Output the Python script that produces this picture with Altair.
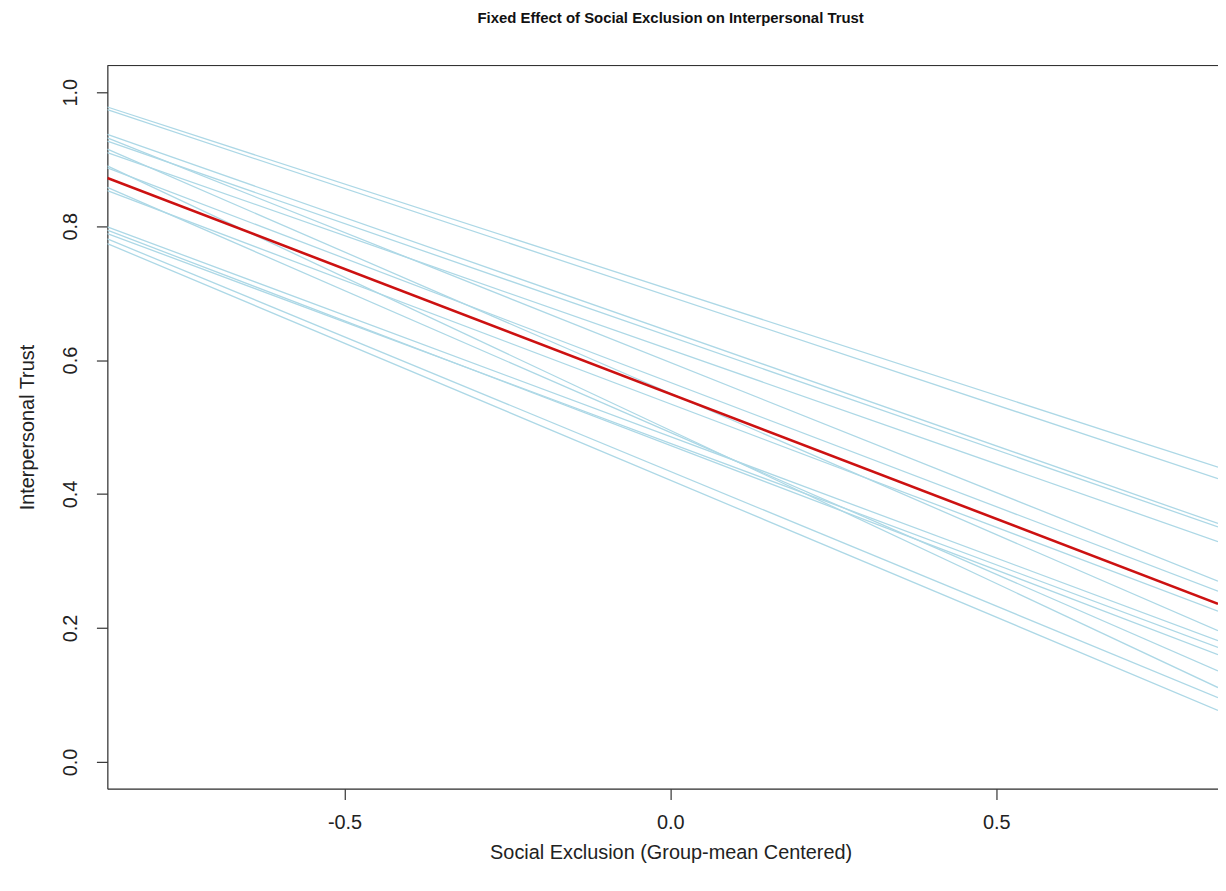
import altair as alt
import pandas as pd

# Values
TITLE = "Fixed Effect of Social Exclusion on Interpersonal Trust"
X_TITLE = "Social Exclusion (Group-mean Centered)"
Y_TITLE = "Interpersonal Trust"

x_ticks = [-0.5, 0.0, 0.5]
y_ticks = [0.0, 0.2, 0.4, 0.6, 0.8, 1.0]

# x range covered by the plotting region (lines are drawn edge to edge, like abline)
x_left = -0.864
x_right = 0.8404

group_ids = list(range(1, 17))
trust_at_left = [0.978, 0.974, 0.937, 0.932, 0.927, 0.915, 0.910, 0.890,
                 0.887, 0.858, 0.853, 0.799, 0.794, 0.789, 0.781, 0.774]
trust_at_right = [0.440, 0.423, 0.356, 0.270, 0.351, 0.196, 0.329, 0.111,
                  0.255, 0.136, 0.225, 0.181, 0.160, 0.171, 0.096, 0.077]

fixed_at_left = 0.872
fixed_at_right = 0.236

rows = []
for g, a, b in zip(group_ids, trust_at_left, trust_at_right):
    rows.append({"group": g, "x": x_left, "y": a})
    rows.append({"group": g, "x": x_right, "y": b})
groups_df = pd.DataFrame(rows)
fixed_df = pd.DataFrame({"x": [x_left, x_right], "y": [fixed_at_left, fixed_at_right]})

W, H = 1118, 728
FONT = "Liberation Sans"
AX = "#333333"
LABEL_EXPR = "datum.value < 0 ? '-' + format(-datum.value, '.1f') : format(datum.value, '.1f')"

x_scale = alt.Scale(domain=[x_left, x_right], nice=False, zero=False)
y_scale = alt.Scale(domain=[-0.04, 1.04], nice=False, zero=False)

x_axis = alt.Axis(values=x_ticks, labelExpr=LABEL_EXPR, grid=False, tickSize=11, tickColor=AX,
                  domainColor=AX, domainWidth=1.2, tickWidth=1.2,
                  labelFont=FONT, labelFontSize=20, labelColor="#222222", labelPadding=13,
                  labelOverlap=False, labelFlush=False,
                  title=X_TITLE, titleFont=FONT, titleFontSize=20, titleFontWeight="normal",
                  titleColor="#222222", titleX=567, titleY=64, titleAlign="center",
                  titleBaseline="middle")
y_axis = alt.Axis(values=y_ticks, labelExpr=LABEL_EXPR, grid=False, tickSize=11, tickColor=AX,
                  domainColor=AX, domainWidth=1.2, tickWidth=1.2,
                  labelFont=FONT, labelFontSize=20, labelColor="#222222", labelAngle=270,
                  labelAlign="center", labelBaseline="middle", labelPadding=26,
                  labelOverlap=False, labelFlush=False,
                  title=Y_TITLE, titleFont=FONT, titleFontSize=20, titleFontWeight="normal",
                  titleColor="#222222", titleAngle=270, titleX=-80, titleY=H / 2,
                  titleAlign="center", titleBaseline="middle")

blue = alt.Chart(groups_df).mark_line(color="#add8e6", strokeWidth=1.3, clip=True).encode(
    x=alt.X("x:Q", scale=x_scale, axis=x_axis),
    y=alt.Y("y:Q", scale=y_scale, axis=y_axis),
    detail="group:N",
)
red = alt.Chart(fixed_df).mark_line(color="#cc1111", strokeWidth=2.6, clip=True).encode(
    x=alt.X("x:Q", scale=x_scale),
    y=alt.Y("y:Q", scale=y_scale),
)
top_border = alt.Chart(pd.DataFrame({"k": [0]})).mark_rule(color=AX, strokeWidth=1.2).encode(
    x=alt.value(0), x2=alt.value(W), y=alt.value(0)
)

chart = alt.layer(blue, red, top_border).properties(
    width=W, height=H,
    title=alt.TitleParams(TITLE, font=FONT, fontSize=15, fontWeight="bold", color="#111111",
                          anchor="middle", dx=8, offset=27, baseline="alphabetic"),
    autosize=alt.AutoSizeParams(type="none"),
    padding={"left": 100, "top": 55, "right": 0, "bottom": 80},
).configure_view(stroke=None).configure(background="white")

chart.save("out.html", embed_options={"renderer": "svg", "actions": False})
